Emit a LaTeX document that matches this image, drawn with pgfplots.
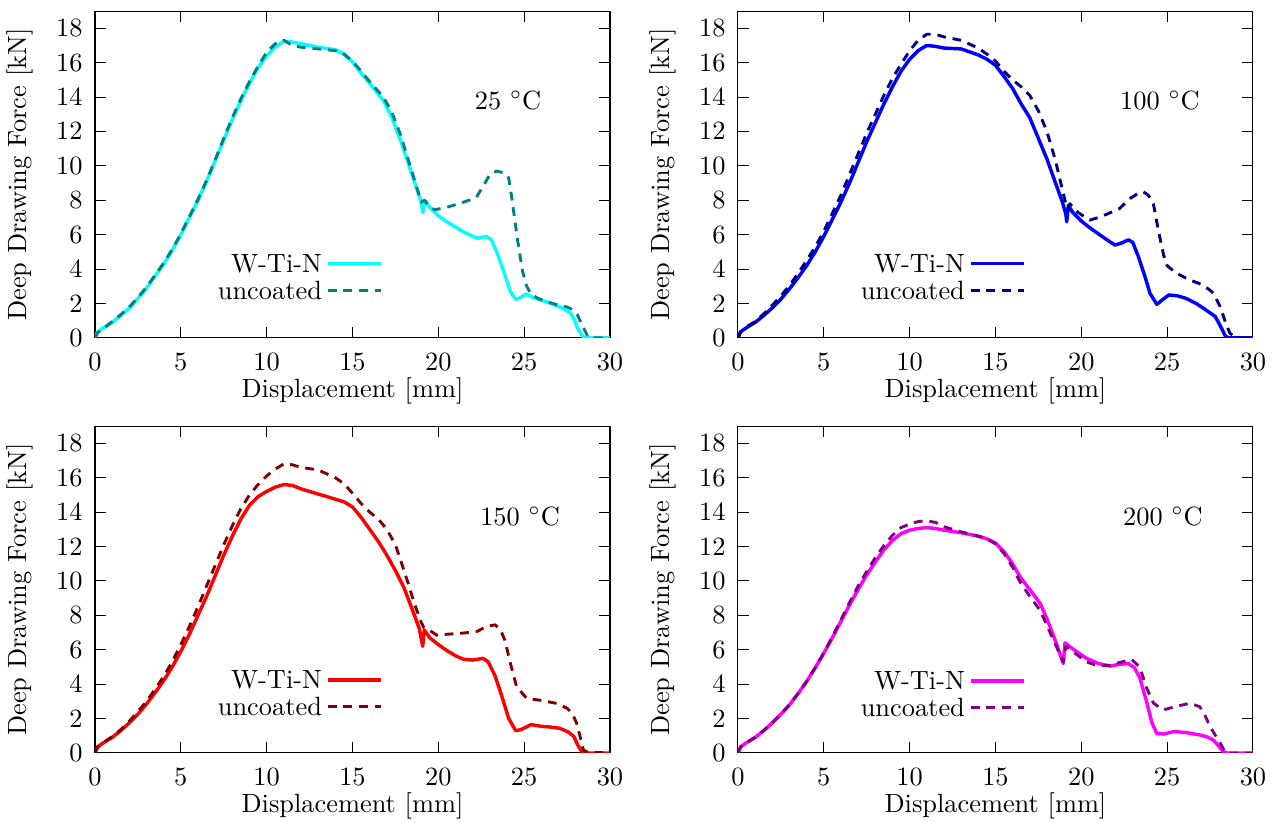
\documentclass[border=0pt]{standalone}
\usepackage{pgfplots}
\pgfplotsset{compat=1.18}
\definecolor{cA}{rgb}{0,1,1}
\definecolor{cAd}{rgb}{0,0.5,0.5}
\definecolor{cB}{rgb}{0,0,1}
\definecolor{cBd}{rgb}{0,0,0.5}
\definecolor{cC}{rgb}{1,0,0}
\definecolor{cCd}{rgb}{0.5,0,0}
\definecolor{cD}{rgb}{1,0,1}
\definecolor{cDd}{rgb}{0.5,0,0.5}
\pgfplotsset{panel/.style={
  scale only axis, width=195.2pt, height=123.9pt,
  xmin=0,xmax=30,ymin=0,ymax=19,
  xtick={0,5,...,30}, ytick={0,2,...,18},
  tick align=inside, major tick length=4.2pt,
  tick style={black, line width=0.4pt},
  xlabel={Displacement [mm]}, ylabel={Deep Drawing Force [kN]},
  every axis x label/.style={at={(axis description cs:0.5,-0.162)},anchor=center},
  every axis y label/.style={at={(axis description cs:-0.1455,0.5)},anchor=center,rotate=90},
  xticklabel style={yshift=-2.2pt}, yticklabel style={xshift=-1.2pt},
  legend plot pos=right,
  legend cell align=right,
  legend style={draw=none, fill=none, at={(0.559,0.187)}, anchor=east, inner sep=0pt,
     nodes={inner sep=1.6pt, text height=6.9pt, text depth=0pt}, row sep=0pt},
  legend image code/.code={\draw[#1] (0pt,0pt) -- (20pt,0pt);},
},
solidc/.style={line width=1.3pt, line join=round},
dashc/.style={line width=1.1pt, dash pattern=on 3.3pt off 2.6pt, line join=round},
}
\begin{document}
\begin{tikzpicture}
\useasboundingbox (0,0) rectangle (482.5pt,311.9pt);
% ---------- 25 C ----------
\begin{axis}[panel, at={(36.0pt,183.8pt)}, anchor=south west]
\addplot[solidc, cA] coordinates {(0,0) (0.15,0.35) (0.5,0.6) (1,0.9) (1.5,1.3) (2,1.75) (2.5,2.3) (3,2.9) (3.5,3.6) (4,4.3) (4.5,5.1) (5,6.0) (5.5,7.0) (6,8.0) (6.5,9.1) (7,10.3) (7.5,11.5) (8,12.7) (8.5,13.8) (9,14.8) (9.5,15.7) (10,16.4) (10.5,16.9) (11,17.25) (11.5,17.2) (12,17.1) (13,16.9) (14,16.75) (14.5,16.5) (15,16.05) (15.5,15.4) (16,14.8) (16.8,13.8) (17.3,12.8) (17.8,11.5) (18.3,10.0) (18.7,8.8) (19.0,7.9) (19.1,7.3) (19.2,8.0) (19.5,7.6) (20,7.1) (20.5,6.75) (21,6.45) (21.5,6.15) (22.0,5.9) (22.3,5.8) (22.8,5.9) (23.1,5.7) (23.4,5.0) (23.8,3.9) (24.2,2.7) (24.5,2.25) (24.7,2.3) (25.1,2.55) (25.4,2.4) (26,2.2) (26.6,2.0) (27.2,1.75) (27.7,1.45) (27.9,1.1) (28.1,0.6) (28.4,0.1) (28.6,0) (30,0)};
\addlegendentry{W-Ti-N}
\addplot[dashc, cAd] coordinates {(0,0) (0.15,0.3) (0.5,0.55) (1,0.95) (1.5,1.35) (2,1.8) (2.5,2.35) (3,2.95) (3.5,3.65) (4,4.35) (4.5,5.15) (5,6.05) (5.5,7.05) (6,8.05) (6.5,9.15) (7,10.35) (7.5,11.6) (8,12.8) (8.5,13.9) (9,14.9) (9.5,15.8) (10,16.6) (10.5,17.1) (11,17.3) (11.5,17.0) (12,16.9) (13,16.8) (14,16.7) (14.5,16.5) (15,16.1) (15.5,15.5) (16,14.9) (16.8,14.0) (17.3,13.1) (17.8,11.8) (18.3,10.2) (18.7,8.9) (19.0,7.9) (19.2,8.0) (19.5,7.6) (19.8,7.45) (20.5,7.6) (21.2,7.8) (22.2,8.15) (22.6,8.8) (23.0,9.5) (23.4,9.7) (23.8,9.6) (24.1,9.3) (24.3,8.0) (24.6,5.8) (24.9,3.9) (25.15,3.0) (25.4,2.55) (25.8,2.3) (26.5,2.05) (27.0,1.9) (27.5,1.8) (27.8,1.65) (28.1,1.35) (28.4,0.7) (28.7,0.1) (29,0) (30,0)};
\addlegendentry{uncoated}
\node at (axis cs:24.06,13.82) {25 $^\circ$C};
\end{axis}
% ---------- 100 C ----------
\begin{axis}[panel, at={(279.7pt,183.8pt)}, anchor=south west]
\addplot[solidc, cB] coordinates {(0,0) (0.15,0.35) (0.5,0.6) (1,0.9) (1.5,1.3) (2,1.75) (2.5,2.25) (3,2.85) (3.5,3.5) (4,4.2) (4.5,5.0) (5,5.9) (5.5,6.9) (6,7.9) (6.5,9.0) (7,10.2) (7.5,11.4) (8,12.5) (8.5,13.6) (9,14.6) (9.5,15.5) (10,16.2) (10.5,16.7) (11,17.0) (11.5,16.95) (12,16.85) (13,16.8) (14,16.45) (14.5,16.2) (15,15.85) (15.5,15.2) (16,14.5) (16.5,13.6) (17,12.8) (17.5,11.6) (18,10.4) (18.5,9.0) (18.9,7.9) (19.1,7.2) (19.15,6.75) (19.25,7.7) (19.5,7.3) (20,6.8) (20.5,6.4) (21,6.05) (21.5,5.7) (21.96,5.4) (22.3,5.5) (22.75,5.7) (23.0,5.55) (23.3,4.8) (23.7,3.6) (24.0,2.6) (24.4,1.95) (24.7,2.2) (25.1,2.5) (25.6,2.45) (26.1,2.3) (26.7,2.0) (27.3,1.6) (27.8,1.25) (28.1,0.7) (28.4,0.1) (28.6,0) (30,0)};
\addlegendentry{W-Ti-N}
\addplot[dashc, cBd] coordinates {(0,0) (0.15,0.35) (0.5,0.65) (1,0.95) (1.5,1.4) (2,1.9) (2.5,2.45) (3,3.05) (3.5,3.75) (4,4.5) (4.5,5.3) (5,6.2) (5.5,7.25) (6,8.3) (6.5,9.5) (7,10.7) (7.5,11.9) (8,13.0) (8.5,14.1) (9,15.1) (9.5,15.9) (10,16.7) (10.5,17.3) (11,17.65) (11.5,17.65) (12,17.5) (13,17.3) (14,16.85) (14.5,16.5) (15,16.1) (15.5,15.5) (16,15.0) (16.5,14.6) (17,14.1) (17.5,13.2) (18,12.0) (18.5,10.3) (18.9,8.6) (19.1,7.8) (19.2,7.5) (19.34,7.8) (19.8,7.3) (20.5,6.85) (21,7.0) (21.5,7.2) (22.2,7.5) (22.84,8.1) (23.3,8.4) (23.6,8.5) (23.9,8.3) (24.2,7.8) (24.5,6.2) (24.8,4.8) (25.0,4.2) (25.55,3.75) (26.33,3.37) (26.9,3.15) (27.4,2.85) (27.7,2.6) (28.1,1.8) (28.4,0.9) (28.66,0.27) (29.05,0) (30,0)};
\addlegendentry{uncoated}
\node at (axis cs:24.58,13.82) {100 $^\circ$C};
\end{axis}
% ---------- 150 C ----------
\begin{axis}[panel, at={(36.0pt,26.5pt)}, anchor=south west, legend style={at={(0.559,0.183)}}]
\addplot[solidc, cC] coordinates {(0,0) (0.15,0.35) (0.5,0.6) (1,0.9) (1.5,1.3) (2,1.75) (2.5,2.25) (3,2.85) (3.5,3.5) (4,4.2) (4.5,5.0) (5,5.9) (5.5,6.9) (6,8.0) (6.5,9.1) (7,10.3) (7.5,11.5) (8,12.6) (8.5,13.6) (9,14.4) (9.5,14.9) (10,15.2) (10.5,15.45) (11,15.6) (11.5,15.55) (12,15.35) (13,15.05) (14,14.75) (14.5,14.6) (15,14.3) (15.5,13.7) (16,13.0) (16.5,12.3) (17,11.5) (17.5,10.6) (18,9.6) (18.5,8.3) (18.9,7.2) (19.09,6.2) (19.18,7.15) (19.5,6.7) (20,6.3) (20.5,5.95) (21,5.65) (21.45,5.45) (22,5.4) (22.6,5.5) (22.9,5.3) (23.3,4.5) (23.7,3.3) (24.1,2.0) (24.5,1.3) (24.8,1.35) (25.4,1.65) (26.0,1.55) (26.6,1.5) (27.1,1.43) (27.6,1.2) (27.9,0.95) (28.1,0.5) (28.35,0.08) (28.6,0) (30,0)};
\addlegendentry{W-Ti-N}
\addplot[dashc, cCd] coordinates {(0,0) (0.15,0.35) (0.5,0.6) (1,0.95) (1.5,1.35) (2,1.85) (2.5,2.4) (3,3.0) (3.5,3.7) (4,4.45) (4.5,5.3) (5,6.3) (5.5,7.35) (6,8.5) (6.5,9.7) (7,10.9) (7.5,12.1) (8,13.2) (8.5,14.2) (9,15.0) (9.5,15.6) (10,16.1) (10.5,16.5) (11,16.8) (11.5,16.75) (12,16.6) (13,16.45) (14,16.0) (14.5,15.65) (15,15.1) (15.5,14.5) (16,14.0) (16.5,13.6) (17,13.0) (17.5,12.1) (17.77,11.3) (18.2,10.0) (18.6,8.7) (19.0,7.6) (19.15,7.3) (19.32,7.25) (19.9,6.85) (20.5,6.9) (21.26,6.95) (22.23,7.05) (22.8,7.35) (23.3,7.45) (23.6,7.2) (23.88,6.55) (24.2,5.2) (24.56,3.85) (25.15,3.17) (25.9,3.07) (26.9,2.88) (27.5,2.6) (27.8,2.3) (28.06,1.72) (28.3,0.8) (28.45,0.17) (28.7,0.05) (30,0)};
\addlegendentry{uncoated}
\node at (axis cs:24.76,13.76) {150 $^\circ$C};
\end{axis}
% ---------- 200 C ----------
\begin{axis}[panel, at={(279.7pt,26.5pt)}, anchor=south west, legend style={at={(0.559,0.180)}}]
\addplot[solidc, cD] coordinates {(0,0) (0.15,0.35) (0.5,0.6) (1,0.9) (1.5,1.3) (2,1.75) (2.5,2.25) (3,2.8) (3.5,3.45) (4,4.15) (4.5,4.95) (5,5.8) (5.5,6.7) (6,7.65) (6.5,8.6) (7,9.5) (7.5,10.35) (8,11.1) (8.5,11.8) (9,12.35) (9.5,12.75) (10,12.95) (10.5,13.05) (11,13.1) (11.5,13.05) (12,12.95) (13,12.8) (14,12.6) (14.5,12.45) (15,12.2) (15.5,11.7) (16,11.0) (16.43,10.24) (17,9.5) (17.6,8.7) (18,7.8) (18.5,6.5) (18.95,5.2) (19.05,6.4) (19.5,6.05) (20.3,5.5) (21,5.2) (21.67,5.05) (22.2,5.15) (22.74,5.2) (23.1,4.95) (23.4,4.4) (23.8,3.0) (24.1,1.8) (24.39,1.14) (24.8,1.1) (25.36,1.24) (26,1.2) (26.9,1.05) (27.3,0.95) (27.7,0.75) (28.0,0.4) (28.27,0.08) (28.5,0) (30,0)};
\addlegendentry{W-Ti-N}
\addplot[dashc, cDd] coordinates {(0,0) (0.15,0.35) (0.5,0.6) (1,0.9) (1.5,1.3) (2,1.75) (2.5,2.25) (3,2.8) (3.5,3.45) (4,4.15) (4.5,4.95) (5,5.8) (5.5,6.75) (6,7.75) (6.5,8.75) (7,9.7) (7.5,10.55) (8,11.35) (8.5,12.05) (9,12.65) (9.5,13.1) (10,13.3) (10.5,13.45) (11,13.5) (11.5,13.4) (12,13.15) (13,12.85) (14,12.6) (14.5,12.45) (15,12.15) (15.5,11.6) (16,10.8) (16.43,9.95) (17,9.1) (17.6,8.3) (18,7.4) (18.5,6.3) (18.95,5.3) (19.1,6.2) (19.5,5.9) (20.3,5.3) (21,5.05) (21.67,5.1) (22.2,5.25) (22.93,5.44) (23.4,5.0) (23.8,3.8) (24.2,2.9) (24.77,2.5) (25.5,2.7) (26.33,2.89) (26.9,2.69) (27.2,2.2) (27.5,1.53) (28.1,0.56) (28.37,0.08) (28.6,0) (30,0)};
\addlegendentry{uncoated}
\node at (axis cs:24.76,13.76) {200 $^\circ$C};
\end{axis}
\end{tikzpicture}
\end{document}
